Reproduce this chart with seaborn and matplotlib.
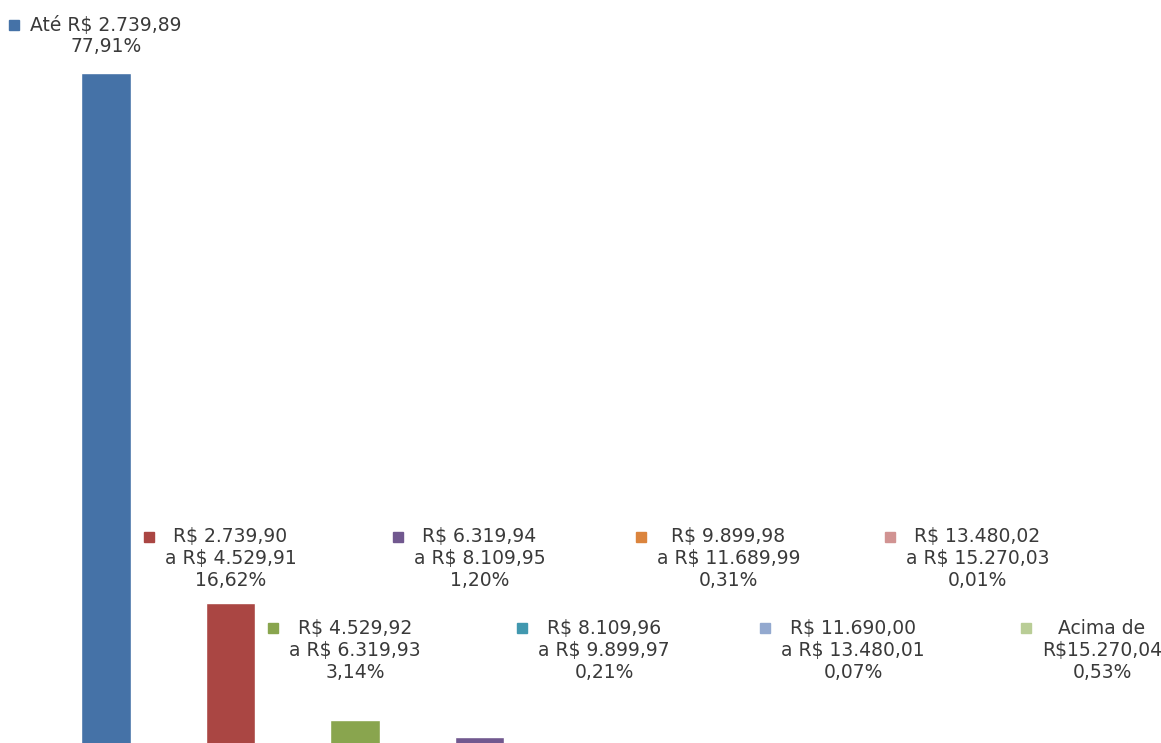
import matplotlib
matplotlib.use("Agg")
import matplotlib.pyplot as plt
import seaborn as sns
import pandas as pd

# Faixas de renda e percentuais
faixas = [
    "Até R$ 2.739,89",
    "R$ 2.739,90\na R$ 4.529,91",
    "R$ 4.529,92\na R$ 6.319,93",
    "R$ 6.319,94\na R$ 8.109,95",
    "R$ 8.109,96\na R$ 9.899,97",
    "R$ 9.899,98\na R$ 11.689,99",
    "R$ 11.690,00\na R$ 13.480,01",
    "R$ 13.480,02\na R$ 15.270,03",
    "Acima de\nR$15.270,04",
]
percentuais = [77.91, 16.62, 3.14, 1.20, 0.21, 0.31, 0.07, 0.01, 0.53]
rotulos_pct = ["77,91%", "16,62%", "3,14%", "1,20%", "0,21%", "0,31%", "0,07%", "0,01%", "0,53%"]
cores = ["#4572A7", "#AA4643", "#89A54E", "#71588F", "#4198AF",
         "#DB843D", "#93A9CF", "#D19392", "#B9CD96"]

df = pd.DataFrame({"faixa": faixas, "pct": percentuais})

sns.set_theme(style="white")
plt.rcParams["font.family"] = ["DejaVu Sans"]

fig = plt.figure(figsize=(11.61, 7.43), dpi=100)
ax = fig.add_axes([0, 0, 1, 1])

sns.barplot(data=df, x="faixa", y="pct", hue="faixa", palette=cores,
            order=faixas, hue_order=faixas, width=0.4, legend=False,
            saturation=1, ax=ax)

px_per_unit = 674 / 77.91
ax.set_xlim(-0.851, 8.474)
ax.set_ylim(4 / px_per_unit, 77.91 + 73 / px_per_unit)
ax.axis("off")

dy = 22 / px_per_unit
text_color = "#3a3a3a"
line_objs = []
for i, (faixa, pct) in enumerate(zip(faixas, rotulos_pct)):
    linhas = faixa.split("\n") + [pct]
    if i == 0:
        y0 = percentuais[0] + 48 / px_per_unit
    elif i % 2 == 1:
        y0 = 24.3
    else:
        y0 = 13.7
    objs = []
    for k, linha in enumerate(linhas):
        t = ax.text(i, y0 - k * dy, linha, ha="center", va="center",
                    fontsize=13.5, color=text_color)
        objs.append(t)
    line_objs.append((y0, objs))

# quadradinho de legenda à esquerda de cada rótulo
fig.canvas.draw()
renderer = fig.canvas.get_renderer()
inv = ax.transData.inverted()
for i, (y0, objs) in enumerate(line_objs):
    left = min(o.get_window_extent(renderer).x0 for o in objs)
    y_disp = ax.transData.transform((i, y0))[1]
    xs, ys = inv.transform((left - 16, y_disp))
    ax.plot([xs], [y0], marker="s", markersize=6.5, color=cores[i],
            linestyle="none")

fig.savefig("out.png", dpi=100)
